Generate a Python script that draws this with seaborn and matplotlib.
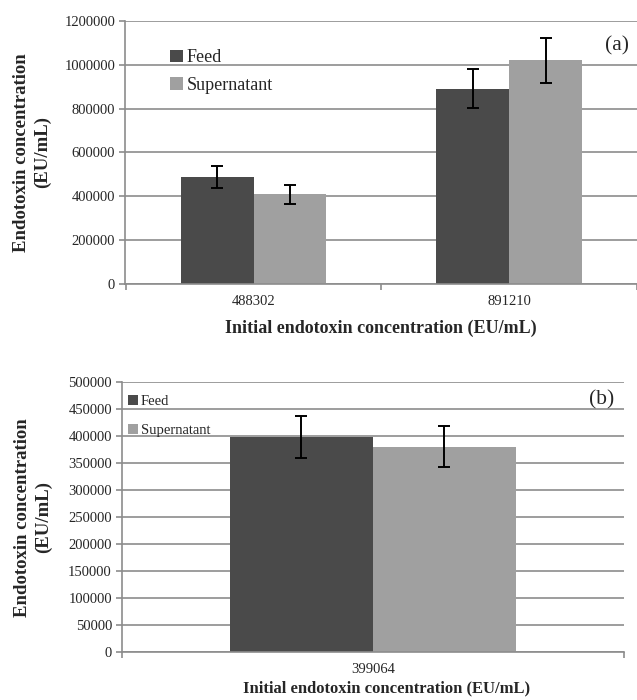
import matplotlib
matplotlib.use("Agg")
import matplotlib.pyplot as plt
from matplotlib.ticker import FuncFormatter, FixedLocator
import seaborn as sns
import pandas as pd

# panel (a)
conc_a = ["488302", "891210"]
feed_a = [488302, 891210]
feed_a_err = [50000, 89000]
sup_a = [409000, 1020500]
sup_a_err = [42500, 102500]

# panel (b)
conc_b = ["399064"]
feed_b = [399064]
feed_b_err = [39500]
sup_b = [380700]
sup_b_err = [38300]

series = ["Feed", "Supernatant"]
colors = ["#4a4a4a", "#a0a0a0"]
GRID = "#8c8c8c"

sns.set_theme(style="white")
plt.rcParams["font.family"] = ["Liberation Serif", "DejaVu Serif"]


def make_df(conc, feed, feed_err, sup, sup_err):
    rows = []
    for c, v, e in zip(conc, feed, feed_err):
        rows.append(dict(conc=c, sample="Feed", value=v, err=e))
    for c, v, e in zip(conc, sup, sup_err):
        rows.append(dict(conc=c, sample="Supernatant", value=v, err=e))
    return pd.DataFrame(rows)


def draw(ax, df, conc, ymax, ystep, xlim, tick_fs, xlabel_fs,
         leg_fs, leg_anchor, leg_spacing, tag, tag_xy, tag_fs):
    sns.barplot(data=df, x="conc", y="value", hue="sample", order=conc,
                hue_order=series, palette=colors, width=0.57, errorbar=None,
                saturation=1, ax=ax, zorder=2, linewidth=0)
    # error bars from bar centres
    bars = [p for p in ax.patches if p.get_height() > 0]
    for p, (_, r) in zip(bars, df.iterrows()):
        ax.errorbar(p.get_x() + p.get_width() / 2, p.get_height(), yerr=r["err"],
                    color="black", lw=1.4, capsize=4, capthick=1.4, zorder=3)
    ax.set_ylim(0, ymax)
    ax.set_xlim(*xlim)
    ax.yaxis.set_major_locator(FixedLocator(list(range(0, ymax + 1, ystep))))
    ax.yaxis.set_major_formatter(FuncFormatter(lambda v, _: f"{int(v)}"))
    ax.grid(axis="y", color=GRID, lw=1.2, zorder=0)
    ax.set_axisbelow(True)
    for s in ["top", "right"]:
        ax.spines[s].set_visible(False)
    for s in ["left", "bottom"]:
        ax.spines[s].set_color(GRID)
        ax.spines[s].set_linewidth(1.2)
    ax.tick_params(axis="y", which="major", length=4, color=GRID, width=1.2,
                   labelsize=tick_fs, pad=3, left=True)
    ax.tick_params(axis="x", which="major", length=0, labelsize=tick_fs, pad=8)
    ax.set_xticks([i + 0.5 for i in range(-1, len(conc))], minor=True)
    ax.tick_params(axis="x", which="minor", length=4, color=GRID, width=1.2,
                   bottom=True)
    ax.set_ylabel("Endotoxin concentration\n(EU/mL)", fontsize=13.5,
                  fontweight="bold", linespacing=1.3)
    ax.set_xlabel("Initial endotoxin concentration (EU/mL)", fontsize=xlabel_fs,
                  fontweight="bold")
    ax.legend(loc="upper left", bbox_to_anchor=leg_anchor, frameon=False,
              fontsize=leg_fs, handlelength=0.7, handleheight=0.7,
              handletextpad=0.2, labelspacing=leg_spacing, borderaxespad=0)
    ax.text(tag_xy[0], tag_xy[1], tag, transform=ax.transAxes, fontsize=tag_fs,
            ha="right", va="center")


fig = plt.figure(figsize=(6.37, 7.0), dpi=100)
ax_a = fig.add_axes([0.196, 0.5943, 0.804, 0.3757])
ax_b = fig.add_axes([0.191, 0.0681, 0.7886, 0.3857])

draw(ax_a, make_df(conc_a, feed_a, feed_a_err, sup_a, sup_a_err), conc_a,
     1200000, 200000, (-0.504, 1.465), 10.5, 13, 13, (0.075, 0.92), 0.6,
     "(a)", (0.985, 0.905), 15.5)
draw(ax_b, make_df(conc_b, feed_b, feed_b_err, sup_b, sup_b_err), conc_b,
     500000, 50000, (-0.5, 0.5), 10.5, 12, 10.5, (0.0, 0.975), 1.1,
     "(b)", (0.98, 0.935), 15.5)

ax_a.yaxis.set_label_coords(-0.143, 0.5)
ax_b.yaxis.set_label_coords(-0.139, 0.5)
ax_a.xaxis.labelpad = 8
ax_b.xaxis.set_label_coords(0.528, -0.105)

fig.savefig("out.png", dpi=100)
